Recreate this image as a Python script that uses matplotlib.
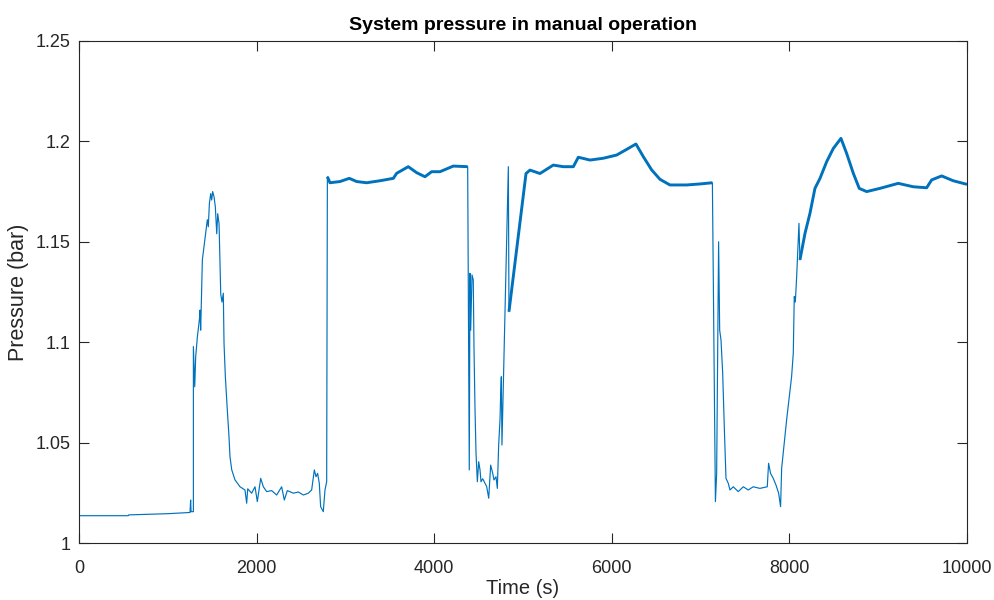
import matplotlib.pyplot as plt
import numpy as np

plt.rcParams['font.family'] = ['Liberation Sans', 'DejaVu Sans']

# Pressure trace (time in s, pressure in bar)
time_s = [
    0, 555, 560, 1000, 1250, 1257, 1262, 1288,
    1288, 1303, 1314, 1333, 1355, 1363, 1370, 1389, 1408, 1426, 1445, 1456,
    1468, 1483, 1494, 1505, 1520, 1535, 1551, 1562, 1577, 1596, 1610, 1625,
    1633, 1648, 1670, 1689, 1700, 1720, 1757, 1813, 1869, 1888, 1900, 1944,
    1982, 2008, 2046, 2076, 2113, 2169, 2226, 2282, 2312, 2346, 2414, 2470,
    2526, 2582, 2620, 2650, 2669, 2687, 2706, 2721, 2751, 2770, 2789,
    2797, 2826, 2939, 3044, 3127, 3239, 3390, 3540, 3577, 3708, 3803, 3896,
    3971, 4065, 4215, 4377,
    4395, 4403, 4411, 4426, 4440, 4448, 4459, 4471, 4486, 4501, 4516, 4527,
    4546, 4572, 4591, 4614, 4636, 4659, 4673, 4696, 4711, 4726, 4741, 4748,
    4756, 4763, 4835, 4842, 5034, 5079, 5191, 5341, 5454, 5567, 5623, 5755,
    5904, 6055, 6167, 6272, 6355, 6449, 6543, 6655, 6843, 6993, 7133,
    7167, 7181, 7203, 7215, 7230, 7249, 7267, 7286, 7312, 7331, 7368, 7424,
    7481, 7537, 7593, 7668, 7751, 7766, 7788, 7818, 7849, 7879, 7901, 7913,
    7969, 8025, 8044, 8055, 8067, 8082, 8093, 8108, 8119, 8176, 8232, 8288,
    8345, 8420, 8495, 8581, 8645, 8720, 8787, 8870, 9020, 9226, 9395, 9546,
    9602, 9715, 9845, 10000,
]
pressure_bar = [
    1.0136, 1.0136, 1.0140, 1.0146, 1.0152, 1.0214, 1.0156, 1.0156,
    1.0978, 1.0778, 1.0928, 1.1027, 1.1110, 1.1160, 1.1060, 1.1410, 1.1476, 1.1542, 1.1610, 1.1575,
    1.1690, 1.1740, 1.1708, 1.1750, 1.1725, 1.1675, 1.1540, 1.1640, 1.1590, 1.1240, 1.1200, 1.1244,
    1.0994, 1.0828, 1.0662, 1.0530, 1.0430, 1.0364, 1.0314, 1.0280, 1.0264, 1.0198, 1.0270, 1.0248,
    1.0280, 1.0206, 1.0322, 1.0280, 1.0256, 1.0261, 1.0239, 1.0280, 1.0214, 1.0261, 1.0248, 1.0254,
    1.0239, 1.0248, 1.0264, 1.0364, 1.0330, 1.0347, 1.0297, 1.0181, 1.0156, 1.0264, 1.0305,
    1.1824, 1.1794, 1.1800, 1.1816, 1.1800, 1.1794, 1.1804, 1.1816, 1.1841, 1.1874, 1.1844, 1.1824,
    1.1849, 1.1849, 1.1877, 1.1874,
    1.0364, 1.1343, 1.1060, 1.1335, 1.1310, 1.0978, 1.0680, 1.0447, 1.0305, 1.0405, 1.0364, 1.0305,
    1.0320, 1.0297, 1.0281, 1.0223, 1.0388, 1.0347, 1.0314, 1.0330, 1.0272, 1.0488, 1.0613, 1.0729,
    1.0828, 1.0488, 1.1874, 1.1152, 1.1840, 1.1857, 1.1840, 1.1882, 1.1874, 1.1874, 1.1921, 1.1907,
    1.1916, 1.1932, 1.1960, 1.1987, 1.1924, 1.1858, 1.1811, 1.1783, 1.1783, 1.1788, 1.1794,
    1.0206, 1.0347, 1.1500, 1.1060, 1.1011, 1.0845, 1.0579, 1.0322, 1.0297, 1.0264, 1.0280, 1.0256,
    1.0280, 1.0264, 1.0280, 1.0272, 1.0280, 1.0397, 1.0347, 1.0322, 1.0289, 1.0248, 1.0181, 1.0372,
    1.0613, 1.0828, 1.0945, 1.1227, 1.1200, 1.1326, 1.1443, 1.1592, 1.1410, 1.1542, 1.1642, 1.1766,
    1.1816, 1.1899, 1.1965, 1.2015, 1.1940, 1.1841, 1.1766, 1.1750, 1.1766, 1.1791, 1.1774, 1.1769,
    1.1808, 1.1828, 1.1804, 1.1786,
]

# stretches where the measured trace is a dense noisy band
band_ranges = [(2797, 4377), (4842, 7133), (8119, 10000)]

t = np.array(time_s)
p = np.array(pressure_bar)

fig = plt.figure(figsize=(9.94, 6.0), dpi=100)
ax = fig.add_axes([0.0795, 0.095, 0.8933, 0.8367])

line_color = '#0072BD'
ax.plot(t, p, color=line_color, lw=0.85)
for t0, t1 in band_ranges:
    sel = (t >= t0) & (t <= t1)
    ax.plot(t[sel], p[sel], color=line_color, lw=2.1, solid_capstyle='butt')

ax.set_xlim(0, 10000)
ax.set_ylim(1, 1.25)
ax.set_xticks([0, 2000, 4000, 6000, 8000, 10000])
ax.set_yticks([1, 1.05, 1.1, 1.15, 1.2, 1.25])
ax.set_yticklabels(['1', '1.05', '1.1', '1.15', '1.2', '1.25'])

ax.tick_params(direction='in', length=7, width=0.8, top=True, right=True,
               labelsize=13, colors='#262626')
ax.tick_params(axis='x', pad=12)
ax.tick_params(axis='y', pad=6)
for s in ax.spines.values():
    s.set_color('#262626')
    s.set_linewidth(0.8)

ax.set_title('System pressure in manual operation', fontsize=14, fontweight='bold', pad=8)
ax.set_xlabel('Time (s)', fontsize=14.5, color='#262626', labelpad=2)
ax.set_ylabel('Pressure (bar)', fontsize=15.5, color='#262626', labelpad=5)

fig.savefig('out.png', dpi=100)
